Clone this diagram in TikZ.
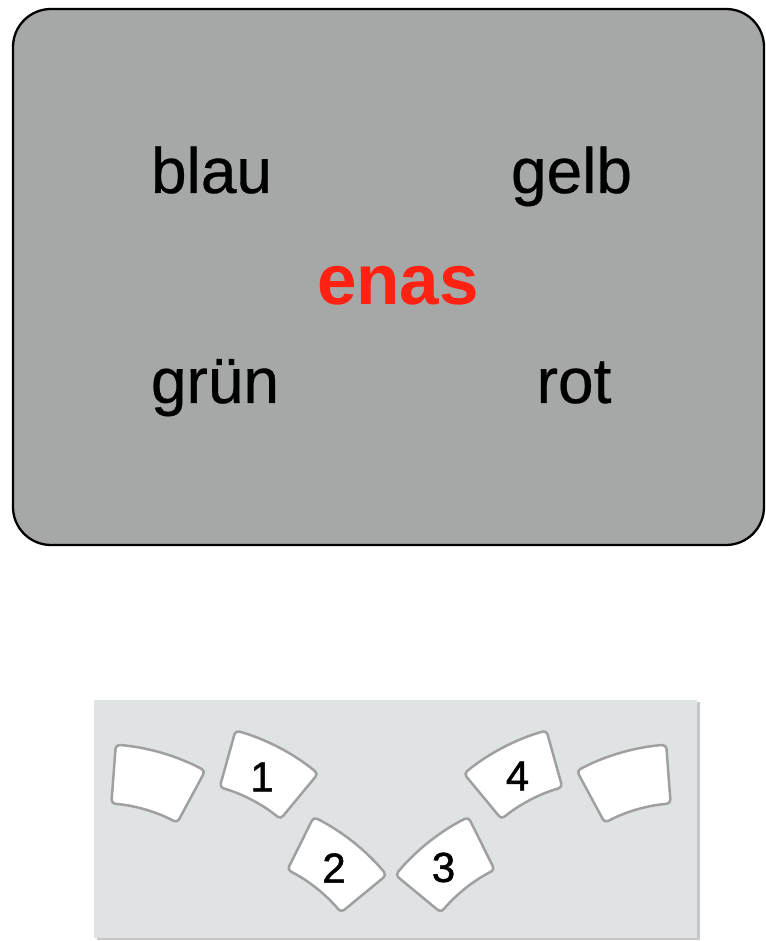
\documentclass[tikz,border=0pt]{standalone}
\usepackage{fontspec}
\setmainfont{Liberation Sans}
\newfontfamily\wordfont[FakeBold=0.5]{Liberation Sans}
\newfontfamily\digitfont[FakeBold=1.2]{Liberation Sans}
\usetikzlibrary{calc}

\definecolor{cardgray}{RGB}{165,168,166}
\definecolor{panelgray}{RGB}{224,227,227}
\definecolor{tileedge}{RGB}{160,160,160}
\definecolor{wordred}{RGB}{255,34,18}

\tikzset{
  x=1pt, y=1pt,
  card/.style={draw=black, line width=2.3pt, fill=cardgray, rounded corners=38pt},
  word/.style={anchor=base, inner sep=0pt, font=\fontsize{64}{64}\wordfont},
  cue/.style={anchor=base, inner sep=0pt, text=wordred, font=\fontsize{71}{71}\selectfont\bfseries},
  digit/.style={inner sep=0pt, font=\fontsize{42}{42}\digitfont},
  tileline/.style={draw=tileedge, line width=2.5pt, fill=white, rounded corners=4pt},
  % an annular sector, outer arc on top, centred on the local origin
  tile/.pic={
    \path[tileline] ($(0,-194.5)+(78:224)$) arc[start angle=78, end angle=102, radius=224]
      -- ($(0,-194.5)+(102:165)$) arc[start angle=102, end angle=78, radius=165] -- cycle;
  }
}

\begin{document}
\begin{tikzpicture}
\useasboundingbox (0,0) rectangle (765,941);
\fill[white] (0,0) rectangle (765,941);

% upper card with the colour words
\path[card] (13,396) rectangle (764,932);
\node[word] (blau) at (211.5,748) {blau};
\node[word] (gelb) at (571.5,748) {gelb};
\node[cue]  (enas) at (398,636) {enas};
\node[word] (gruen) at (215,538) {grün};
\node[word] (rot) at (574,538) {rot};

% lower panel with the arc of tiles
\fill[black!22] (97,1) rectangle (700,239);
\fill[panelgray] (94,3) rectangle (697,241);

\pic[rotate=-16.3] at (153.6,159.6) {tile};
\pic[rotate=-27.6] at (265.4,167.1) {tile};
\pic[rotate=-38.5] at (334.8,75.7) {tile};
\pic[rotate=38.5]  at (447.2,75.7) {tile};
\pic[rotate=27.6]  at (516.6,167.1) {tile};
\pic[rotate=16.3]  at (628.4,159.6) {tile};

\node[digit] (d1) at (262,164) {1};
\node[digit] (d2) at (334,73) {2};
\node[digit] (d3) at (443.5,73.5) {3};
\node[digit] (d4) at (517.5,165) {4};
\end{tikzpicture}
\end{document}
